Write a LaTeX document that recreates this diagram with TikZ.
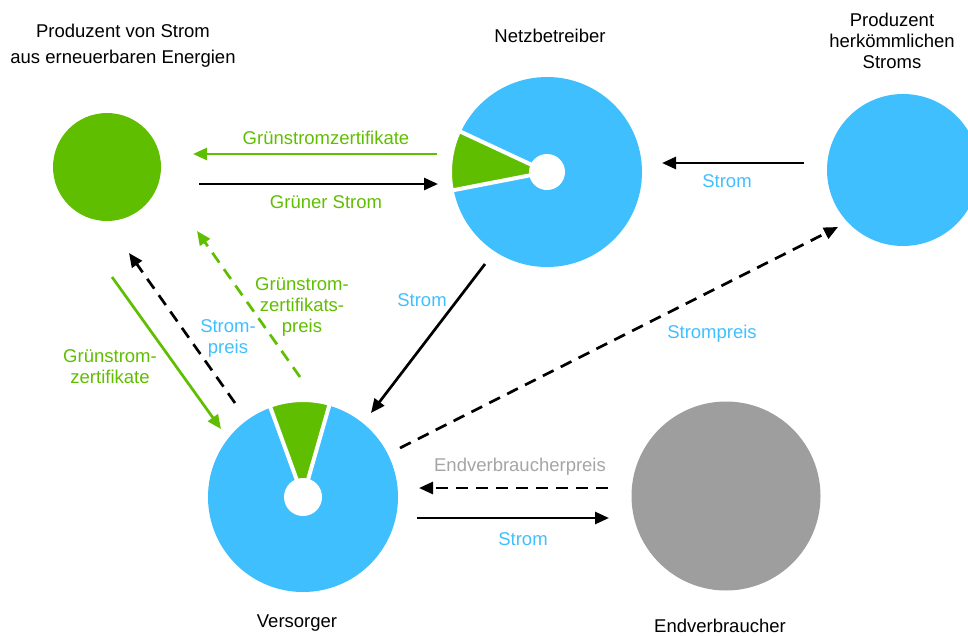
\documentclass[tikz,border=0pt]{standalone}
\usepackage{fontspec}
\setmainfont{Liberation Sans}
\usetikzlibrary{arrows.meta,positioning}
\definecolor{stromblau}{RGB}{64,191,255}
\definecolor{oekogruen}{RGB}{96,190,0}
\definecolor{kundengrau}{RGB}{158,158,158}
\definecolor{preisgrau}{RGB}{165,165,165}

\begin{document}
\begin{tikzpicture}[x=1pt,y=-1pt,>={Triangle[length=14pt,width=12pt]},line width=2.7pt,
	akteur/.style={circle,inner sep=0pt,draw=none},
	titel/.style={align=center,inner sep=0pt,font=\fontsize{18.5}{21}\selectfont},
	beschr/.style={align=center,inner sep=0pt,font=\fontsize{18.5}{21}\selectfont},
	preisfluss/.style={->,dash pattern=on 12pt off 8pt}]
	\useasboundingbox (0,0) rectangle (968,635);
	\clip (0,0) rectangle (968,635);

	% Akteure
	\node[akteur,fill=oekogruen,minimum size=108pt] (erneuerbar) at (107,167) {};
	\node[akteur,fill=stromblau,minimum size=190pt] (netz) at (547,172) {};
	\node[akteur,fill=stromblau,minimum size=152pt] (konventionell) at (903,170) {};
	\node[akteur,fill=stromblau,minimum size=190pt] (versorger) at (303,497) {};
	\node[akteur,fill=kundengrau,minimum size=189pt] (kunde) at (726,496) {};

	% Gruenstromanteil
	\filldraw[fill=oekogruen,draw=white,line width=4pt] (netz.center) -- +(169:97)
		arc[start angle=169,end angle=205,radius=97] -- cycle;
	\fill[white] (netz.center) circle[radius=18];
	\filldraw[fill=oekogruen,draw=white,line width=4pt] (versorger.center) -- +(250:97)
		arc[start angle=250,end angle=286,radius=97] -- cycle;
	\fill[white] (versorger.center) circle[radius=19];

	% Titel
	\node[titel,font=\fontsize{18.5}{26}\selectfont,above=43pt of erneuerbar,xshift=16pt] (t-erneuerbar)
		{Produzent von Strom\\aus erneuerbaren Energien};
	\node[titel,above=32pt of netz,xshift=3pt] (t-netz) {Netzbetreiber};
	\node[titel,above=23pt of konventionell,xshift=-11pt] (t-konventionell)
		{Produzent\\herkömmlichen\\Stroms};
	\node[titel,below=20pt of versorger,xshift=-6pt] (t-versorger) {Versorger};
	\node[titel,below=26pt of kunde,xshift=-6pt] (t-kunde) {Endverbraucher};

	% Endpunkte der Pfeile
	\coordinate (z1) at (437,154); \coordinate (z2) at (193,154);
	\coordinate (s1) at (199,184); \coordinate (s2) at (438,184);
	\coordinate (k1) at (804,163); \coordinate (k2) at (662,163);
	\coordinate (n1) at (485,264); \coordinate (n2) at (371,413);
	\coordinate (p1) at (400,448); \coordinate (p2) at (838,227);
	\coordinate (e1) at (608,488); \coordinate (e2) at (419,488);
	\coordinate (v1) at (417,518); \coordinate (v2) at (609,518);
	\coordinate (g1) at (112,277); \coordinate (g2) at (221,429);
	\coordinate (d1) at (235,403); \coordinate (d2) at (129,253);
	\coordinate (q1) at (300,377); \coordinate (q2) at (197,231);

	\draw[->,oekogruen] (z1) -- (z2);
	\draw[->] (s1) -- (s2);
	\draw[->] (k1) -- (k2);
	\draw[->] (n1) -- (n2);
	\draw[preisfluss] (p1) -- (p2);
	\draw[preisfluss] (e1) -- (e2);
	\draw[->] (v1) -- (v2);
	\draw[->,oekogruen] (g1) -- (g2);
	\draw[preisfluss] (d1) -- (d2);
	\draw[preisfluss,oekogruen] (q1) -- (q2);

	% Beschriftungen
	\node[beschr,text=oekogruen] (l-zert) at (326,138) {Grünstromzertifikate};
	\node[beschr,text=oekogruen] (l-gruen) at (326,202) {Grüner Strom};
	\node[beschr,text=stromblau] (l-konv) at (727,181) {Strom};
	\node[beschr,text=stromblau] (l-netz) at (422,300) {Strom};
	\node[beschr,text=stromblau] (l-preis) at (712,334) {Strompreis};
	\node[beschr,text=preisgrau] (l-endpreis) at (520,467) {Endverbraucherpreis};
	\node[beschr,text=stromblau] (l-kunde) at (523,539) {Strom};
	\node[beschr,text=oekogruen] (l-zert2) at (110,367) {Grünstrom-\\zertifikate};
	\node[beschr,text=stromblau] (l-spreis) at (228,338) {Strom-\\preis};
	\node[beschr,text=oekogruen] (l-zpreis) at (302,307) {Grünstrom-\\zertifikats-\\preis};
\end{tikzpicture}
\end{document}
